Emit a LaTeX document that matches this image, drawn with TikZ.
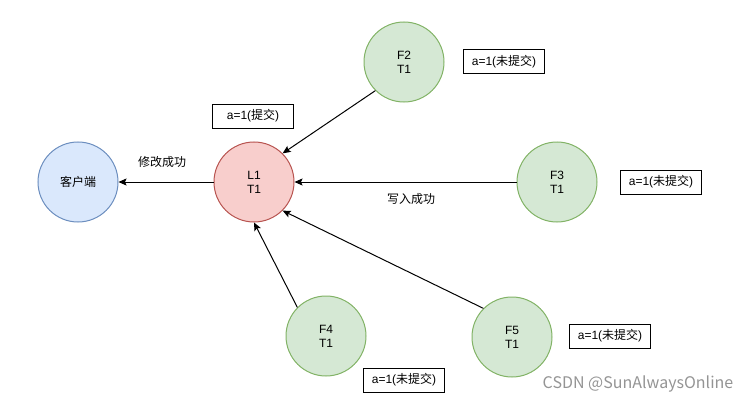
\documentclass[tikz,border=0pt]{standalone}
\usepackage{fontspec}
\setmainfont{Liberation Sans}
\newfontfamily\cjkfont{Noto Sans CJK SC}
\newcommand{\zh}[1]{{\cjkfont #1}}
\usetikzlibrary{arrows.meta, positioning}

\definecolor{clientfill}{HTML}{DAE8FC}
\definecolor{clientline}{HTML}{6C8EBF}
\definecolor{leaderfill}{HTML}{F8CECC}
\definecolor{leaderline}{HTML}{B85450}
\definecolor{followerfill}{HTML}{D5E8D4}
\definecolor{followerline}{HTML}{82B366}

\begin{document}
\begin{tikzpicture}[
    x=1pt, y=-1pt,
    every node/.style={font=\fontsize{12}{14}\selectfont},
    client/.style={circle, draw=clientline, fill=clientfill, line width=1pt, minimum size=80pt, inner sep=0pt, align=center},
    leader/.style={circle, draw=leaderline, fill=leaderfill, line width=1pt, minimum size=80pt, inner sep=0pt, align=center},
    follower/.style={circle, draw=followerline, fill=followerfill, line width=1pt, minimum size=80pt, inner sep=0pt, align=center},
    state/.style={rectangle, draw, line width=1pt, minimum width=81pt, minimum height=24pt, inner sep=0pt},
    msg/.style={-{Stealth[length=8pt, width=7pt, inset=1.5pt]}, line width=1pt}
]
\useasboundingbox (0,0) rectangle (750,404);

% Client and leader
\node[client] (client) at (78,182) {\zh{客户端}};
\node[leader] (leader) at (254,182) {L1\\T1};
\node[state] (leaderstate) at (253,116) {a=1(\zh{提交})};

% Followers
\node[follower] (f2) at (404,62) {F2\\T1};
\node[follower] (f3) at (557,182) {F3\\T1};
\node[follower] (f4) at (326,336) {F4\\T1};
\node[follower] (f5) at (512,337) {F5\\T1};

% Follower states
\node[state] (f2state) at (504,62) {a=1(\zh{未提交})};
\node[state] (f3state) at (661,182) {a=1(\zh{未提交})};
\node[state] (f4state) at (404,380) {a=1(\zh{未提交})};
\node[state] (f5state) at (610,336) {a=1(\zh{未提交})};

% Arrows
\draw[msg] (leader.west) -- (client.east);
\draw[msg] (f2.south west) -- (leader.north east);
\draw[msg] (f3.west) -- (leader.east);
\draw[msg] (f4.north west) -- (leader.south);
\draw[msg] (f5.north west) -- (leader.south east);

% Edge labels
\node (doneclient) at (162,162) {\zh{修改成功}};
\node (donewrite) at (411,199) {\zh{写入成功}};

% Watermark
\node[text=black!42, font=\cjkfont\fontsize{16}{18}\selectfont] (mark) at (638,384) {CSDN @SunAlwaysOnline};

\end{tikzpicture}
\end{document}
